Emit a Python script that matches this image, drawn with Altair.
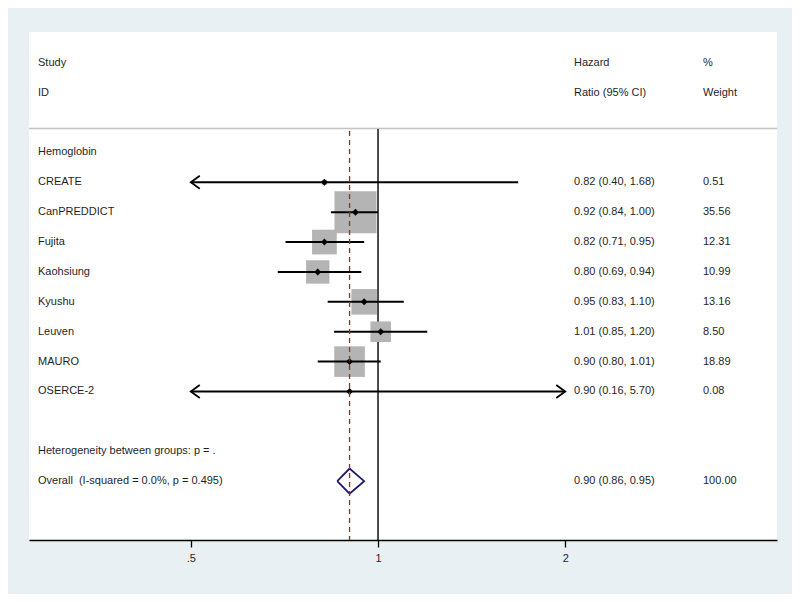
import altair as alt
import pandas as pd
import numpy as np

# ---- data ----
studies = ["CREATE", "CanPREDDICT", "Fujita", "Kaohsiung", "Kyushu", "Leuven", "MAURO", "OSERCE-2"]
hr = [0.82, 0.92, 0.82, 0.80, 0.95, 1.01, 0.90, 0.90]
ci_low = [0.40, 0.84, 0.71, 0.69, 0.83, 0.85, 0.80, 0.16]
ci_high = [1.68, 1.00, 0.95, 0.94, 1.10, 1.20, 1.01, 5.70]
weights = [0.51, 35.56, 12.31, 10.99, 13.16, 8.50, 18.89, 0.08]

overall_hr = 0.90
overall_low = 0.86
overall_high = 0.95
overall_weight = 100.00

group_label = "Hemoglobin"
het_label = "Heterogeneity between groups: p = ."
overall_label = "Overall\u00a0 (I-squared = 0.0%, p = 0.495)"

header_col1 = ["Study", "ID"]
header_col2 = ["Hazard", "Ratio (95% CI)"]
header_col3 = ["%", "Weight"]

tick_values = [0.5, 1, 2]
tick_labels = [".5", "1", "2"]
x_domain = [0.2747, 4.38]
clip_low, clip_high = 0.5, 2.0

# ---- layout/style ----
W, H = 748, 508
BG = "#e8f0f3"
TXT = "#1f1f1f"
FONT = "Liberation Sans"
FS = 11

rows = list(range(1, len(studies) + 1))
study_df = pd.DataFrame({
    "study": studies, "hr": hr, "lo": ci_low, "hi": ci_high, "w": weights, "row": rows,
})
study_df["lo_c"] = np.maximum(study_df["lo"], clip_low)
study_df["hi_c"] = np.minimum(study_df["hi"], clip_high)
study_df["ci_text"] = [f"{h:.2f} ({l:.2f}, {u:.2f})" for h, l, u in zip(hr, ci_low, ci_high)]
study_df["w_text"] = [f"{w:.2f}" for w in weights]

ov_row = len(studies) + 3
het_row = len(studies) + 2

xscale = alt.Scale(type="log", domain=x_domain, nice=False)
yscale = alt.Scale(domain=[-4.03, 12.97], reverse=True, nice=False, zero=False)
label_expr = " : ".join(
    [f"datum.value == {v} ? '{l}'" for v, l in zip(tick_values, tick_labels)] + ["''"]
)
xaxis = alt.Axis(values=tick_values, labelExpr=label_expr, title=None, grid=False,
                 domainColor="black", domainWidth=1.3, tickColor="black", tickWidth=1.3,
                 tickSize=7, labelFontSize=FS, labelFont=FONT, labelColor=TXT,
                 labelPadding=5, labelFlush=False)
Y = lambda: alt.Y("row:Q", scale=yscale, axis=None)

# text table
text_rows = []
for i, r in enumerate([-3, -2]):
    text_rows.append({"row": r, "c1": header_col1[i], "c2": header_col2[i], "c3": header_col3[i]})
text_rows.append({"row": 0, "c1": group_label, "c2": "", "c3": ""})
for _, s in study_df.iterrows():
    text_rows.append({"row": s["row"], "c1": s["study"], "c2": s["ci_text"], "c3": s["w_text"]})
text_rows.append({"row": het_row, "c1": het_label, "c2": "", "c3": ""})
text_rows.append({"row": ov_row, "c1": overall_label,
                  "c2": f"{overall_hr:.2f} ({overall_low:.2f}, {overall_high:.2f})",
                  "c3": f"{overall_weight:.2f}"})
text_df = pd.DataFrame(text_rows)

base_txt = alt.Chart(text_df).mark_text(align="left", baseline="middle", font=FONT,
                                        fontSize=FS, color=TXT)
t1 = base_txt.encode(x=alt.value(9), y=Y(), text="c1:N")
t2 = base_txt.encode(x=alt.value(545), y=Y(), text="c2:N")
t3 = base_txt.encode(x=alt.value(674), y=Y(), text="c3:N")

sep = alt.Chart(pd.DataFrame({"a": [0]})).mark_rule(color="#c4c4c4", strokeWidth=1.5).encode(
    x=alt.value(0), x2=alt.value(W), y=alt.value(96.5))

null_line = alt.Chart(pd.DataFrame({"v": [1.0]})).mark_rule(color="black", strokeWidth=1.4).encode(
    x=alt.X("v:Q", scale=xscale, axis=xaxis), y=alt.value(97), y2=alt.value(H))

boxes = alt.Chart(study_df).mark_square(color="#b4b4b4", opacity=1).encode(
    x=alt.X("hr:Q", scale=xscale), y=Y(),
    size=alt.Size("w:Q", scale=alt.Scale(type="linear", domain=[0, 100], range=[0, 4960]), legend=None))

ci = alt.Chart(study_df).mark_rule(color="black", strokeWidth=2).encode(
    x=alt.X("lo_c:Q", scale=xscale), x2="hi_c:Q", y=Y())

pts = alt.Chart(study_df).mark_point(shape="diamond", filled=True, color="black", size=48, opacity=1).encode(
    x=alt.X("hr:Q", scale=xscale), y=Y())

left_df = study_df[study_df["lo"] < clip_low]
right_df = study_df[study_df["hi"] > clip_high]
larrow = alt.Chart(left_df).mark_point(shape="M1.8,-1.3L0,0L1.8,1.3", filled=False, color="black",
                                       strokeWidth=1.8, size=100, opacity=1).encode(
    x=alt.X("lo_c:Q", scale=xscale), y=Y())
rarrow = alt.Chart(right_df).mark_point(shape="M-1.8,-1.3L0,0L-1.8,1.3", filled=False, color="black",
                                        strokeWidth=1.8, size=100, opacity=1).encode(
    x=alt.X("hi_c:Q", scale=xscale), y=Y())

dh = 0.42
dia_df = pd.DataFrame({
    "x": [overall_low, overall_hr, overall_high, overall_hr, overall_low],
    "row": [ov_row, ov_row - dh, ov_row, ov_row + dh, ov_row],
    "o": [0, 1, 2, 3, 4],
})
diamond = alt.Chart(dia_df).mark_line(color="#1c1c6b", strokeWidth=1.8).encode(
    x=alt.X("x:Q", scale=xscale), y=Y(), order="o:Q")

ov_line = alt.Chart(pd.DataFrame({"v": [overall_hr]})).mark_rule(
    color="#a3262b", strokeWidth=1.3, strokeDash=[5, 4]).encode(
    x=alt.X("v:Q", scale=xscale), y=alt.value(99), y2=alt.value(H))

chart = alt.layer(
    sep, null_line, boxes, ci, larrow, rarrow, pts, diamond, ov_line, t1, t2, t3
).properties(
    width=W, height=H, background=BG,
    autosize=alt.AutoSizeParams(type="none"),
    padding={"left": 21, "top": 24, "right": 15, "bottom": 54},
).configure_view(strokeWidth=0, fill="white")

chart.save("out.html", embed_options={"renderer": "svg", "actions": False})
